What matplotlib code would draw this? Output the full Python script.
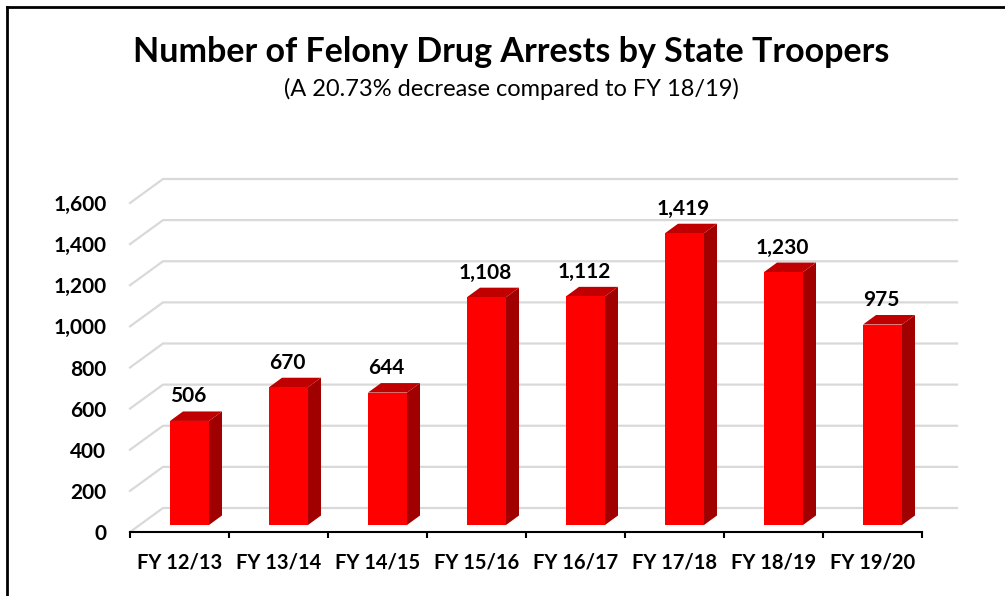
import matplotlib.pyplot as plt
from matplotlib.patches import Polygon
from matplotlib.lines import Line2D

plt.rcParams['font.family'] = ['Lato', 'DejaVu Sans']

# data
categories = ["FY 12/13", "FY 13/14", "FY 14/15", "FY 15/16",
              "FY 16/17", "FY 17/18", "FY 18/19", "FY 19/20"]
arrests = [506, 670, 644, 1108, 1112, 1419, 1230, 975]
y_ticks = [0, 200, 400, 600, 800, 1000, 1200, 1400, 1600]

W, H = 1005, 596
fig = plt.figure(figsize=(W / 100, H / 100), dpi=100)
fig.patch.set_facecolor("white")

# front plane of the plot: x 130..922 px, y 532..203 px
ax = fig.add_axes([130 / W, (H - 532) / H, 792 / W, 329 / H])
n = len(categories)
ax.set_xlim(-0.5, n - 0.5)
ax.set_ylim(0, 1600)

# pixel -> data units, used for the fake 3d depth
px = n / 792
py = 1600 / 329

# gridlines on the floor/back wall
back_dx, back_dy = 33 * px, 24 * py
for v in y_ticks:
    ax.plot([-0.5, -0.5 + back_dx, n - 0.5 + back_dx + 2 * px],
            [v, v + back_dy, v + back_dy],
            color="#D9D9D9", lw=1.6, clip_on=False, zorder=1)

# bars
bar_w = 39 * px
off_x, off_y = 10 * px, 7 * py      # front face sits a little into the depth
dep_x, dep_y = 13 * px, 9.5 * py    # bar depth
for i, v in enumerate(arrests):
    c = i + off_x
    x0, x1 = c - bar_w / 2, c + bar_w / 2
    yb, yt = off_y, off_y + v
    side = Polygon([(x1, yb), (x1 + dep_x, yb + dep_y),
                    (x1 + dep_x, yt + dep_y), (x1, yt)],
                   closed=True, fc="#A00000", ec="none", zorder=3, clip_on=False)
    top = Polygon([(x0, yt), (x1, yt), (x1 + dep_x, yt + dep_y),
                   (x0 + dep_x, yt + dep_y)],
                  closed=True, fc="#C00000", ec="none", zorder=3, clip_on=False)
    front = Polygon([(x0, yb), (x1, yb), (x1, yt), (x0, yt)],
                    closed=True, fc="#FF0000", ec="none", zorder=4, clip_on=False)
    for p in (side, top, front):
        ax.add_patch(p)
    ax.annotate(f"{v:,}", (c - 1.5 * px, yt + dep_y), xytext=(0, 6.5),
                textcoords="offset points", ha="center", va="baseline",
                fontsize=15, fontweight="bold", color="black",
                annotation_clip=False, zorder=5)

for s in ("left", "right", "top"):
    ax.spines[s].set_visible(False)
ax.spines["bottom"].set_color("black")
ax.spines["bottom"].set_linewidth(1.5)
ax.spines["bottom"].set_zorder(6)
ax.set_facecolor("none")

ax.set_yticks(y_ticks)
ax.set_yticklabels([f"{v:,}" for v in y_ticks], fontsize=15, fontweight="bold")
ax.tick_params(axis="y", length=0, pad=17)

ax.set_xticks([i - 0.5 for i in range(n + 1)], minor=False)
ax.set_xticklabels([])
ax.set_xticks(range(n), minor=True)
ax.set_xticklabels(categories, minor=True, fontsize=14.5, fontweight="bold")
ax.tick_params(axis="x", which="major", length=4, width=1.5, color="black", direction="out")
ax.tick_params(axis="x", which="minor", length=0, pad=15)

fig.text(511 / W, 1 - 52 / H, "Number of Felony Drug Arrests by State Troopers",
         ha="center", va="center", fontsize=24.5, fontweight="bold")
fig.text(511 / W, 1 - 89 / H, "(A 20.73% decrease compared to FY 18/19)",
         ha="center", va="center", fontsize=17)

# outer frame (left and top edges)
fig.add_artist(Line2D([7 / W, 7 / W], [0, 1 - 7 / H], color="black", lw=2))
fig.add_artist(Line2D([7 / W, 1], [1 - 7 / H, 1 - 7 / H], color="black", lw=2))

fig.savefig("out.png", dpi=100, facecolor="white")
